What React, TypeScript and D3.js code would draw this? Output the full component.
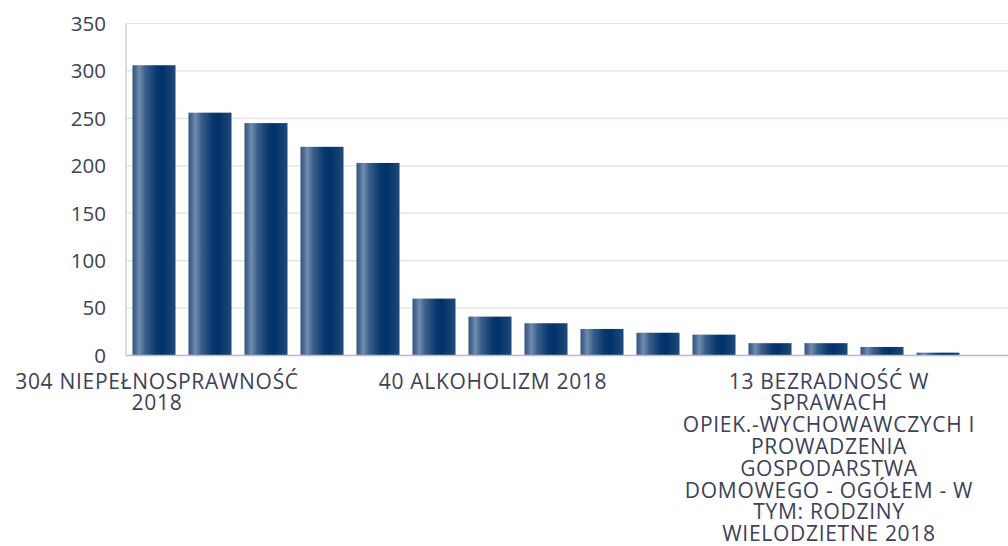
import React, { useEffect, useRef } from "react";
import * as d3 from "d3";

const categories: string[] = [
  "304 NIEPEŁNOSPRAWNOŚĆ 2018",
  "UBÓSTWO 2018",
  "DŁUGOTRWAŁA LUB CIĘŻKA CHOROBA 2018",
  "BEZROBOCIE 2018",
  "POTRZEBA OCHRONY MACIERZYŃSTWA 2018",
  "BEZDOMNOŚĆ 2018",
  "40 ALKOHOLIZM 2018",
  "RODZINY NIEPEŁNE 2018",
  "PRZEMOC W RODZINIE 2018",
  "TRUDNOŚCI PO ZWOLNIENIU Z ZAKŁADU KARNEGO 2018",
  "ZDARZENIE LOSOWE 2018",
  "SYTUACJA KRYZYSOWA 2018",
  "13 BEZRADNOŚĆ W SPRAWACH OPIEK.-WYCHOWAWCZYCH I PROWADZENIA GOSPODARSTWA DOMOWEGO - OGÓŁEM - W TYM: RODZINY WIELODZIETNE 2018",
  "NARKOMANIA 2018",
  "SIEROCTWO 2018",
];
const values: number[] = [306, 256, 245, 220, 203, 60, 41, 34, 28, 24, 22, 13, 13, 9, 3];
const yTicks: number[] = [0, 50, 100, 150, 200, 250, 300, 350];
const shownLabelIndex: number[] = [0, 6, 12];

const FONT = "'Open Sans', sans-serif";
const FS = 21;
const LS = 0.7;

export default function App() {
  const ref = useRef<SVGSVGElement>(null);
  useEffect(() => {
    document.body.style.margin = "0";
    const W = 1008;
    const left = 126, top = 23.5, bottom = 355.5;
    const svg = d3.select(ref.current!);
    svg.selectAll("*").remove();

    const defs = svg.append("defs");
    const grad = defs.append("linearGradient").attr("id", "barGrad")
      .attr("x1", "0%").attr("x2", "100%").attr("y1", "0%").attr("y2", "0%");
    [
      [0, "#2c5282"], [0.16, "#6f8bab"], [0.3, "#3a5f8c"], [0.55, "#083a6e"],
      [0.68, "#00316a"], [1, "#1f4a78"],
    ].forEach(([o, c]) => grad.append("stop").attr("offset", o as number).attr("stop-color", c as string));

    const x = d3.scaleBand<string>().domain(categories).range([left, left + 56 * categories.length])
      .paddingInner(13 / 56).paddingOuter(6.5 / 56);
    const y = d3.scaleLinear().domain([0, 350]).range([bottom, top]);

    svg.append("g").selectAll("line").data(yTicks.filter(t => t > 0)).join("line")
      .attr("x1", left).attr("x2", W).attr("y1", d => y(d)).attr("y2", d => y(d))
      .attr("stroke", "#e2e2ec").attr("stroke-width", 1.2);

    svg.append("g").selectAll("rect").data(values).join("rect")
      .attr("x", (_, i) => x(categories[i])!)
      .attr("width", x.bandwidth())
      .attr("y", d => y(d))
      .attr("height", d => bottom - y(d))
      .attr("fill", "url(#barGrad)");

    svg.append("line").attr("x1", left).attr("x2", left).attr("y1", top).attr("y2", bottom)
      .attr("stroke", "#c4c7d6").attr("stroke-width", 1.2);
    svg.append("line").attr("x1", left).attr("x2", W).attr("y1", bottom).attr("y2", bottom)
      .attr("stroke", "#b9bccd").attr("stroke-width", 1.5);

    svg.append("g").selectAll("text").data(yTicks).join("text")
      .attr("x", 106).attr("y", d => y(d)).attr("dy", "0.36em")
      .attr("text-anchor", "end").attr("font-family", FONT).attr("font-size", 20.5)
      .attr("fill", "#3e4159").text(d => d3.format("d")(d));

    const ctx = document.createElement("canvas").getContext("2d")!;
    ctx.font = `${FS}px ${FONT}`;
    const measure = (s: string) => ctx.measureText(s).width + LS * s.length;
    const maxW = 305;
    const wrap = (s: string) => {
      const words = s.split(" ");
      const lines: string[] = [];
      let cur = "";
      words.forEach(w => {
        const t = cur ? cur + " " + w : w;
        if (measure(t) > maxW && cur) { lines.push(cur); cur = w; } else cur = t;
      });
      if (cur) lines.push(cur);
      return lines;
    };
    const lg = svg.append("g");
    shownLabelIndex.forEach(i => {
      const cx = x(categories[i])! + x.bandwidth() / 2 + 3;
      const t = lg.append("text").attr("font-family", FONT).attr("font-size", FS)
        .attr("letter-spacing", LS)
        .attr("fill", "#3e4159").attr("text-anchor", "middle");
      wrap(categories[i]).forEach((ln, k) => {
        t.append("tspan").attr("x", cx).attr("y", 388.5 + k * 21.8).text(ln);
      });
    });
  }, []);
  return <svg ref={ref} width={1008} height={546} style={{ display: "block" }} />;
}
